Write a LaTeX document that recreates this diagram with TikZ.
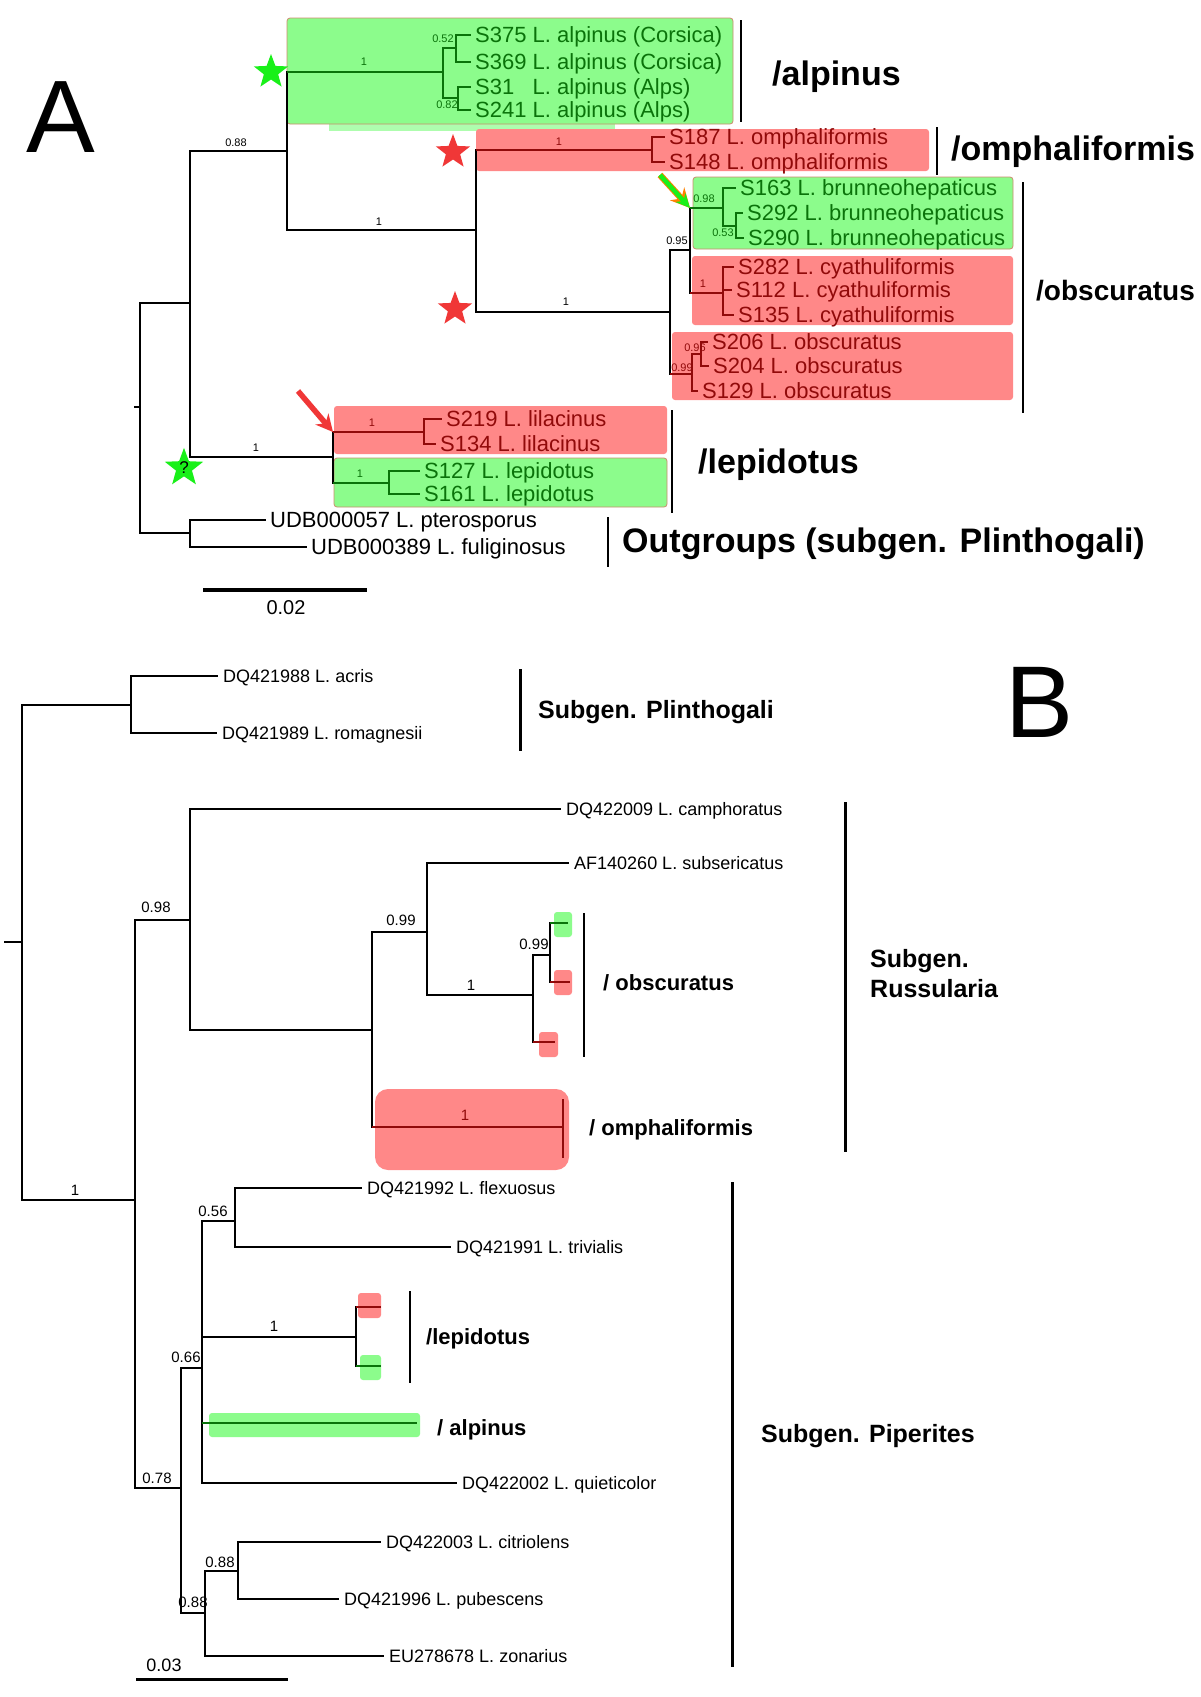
\documentclass[tikz,border=0pt]{standalone}
\usepackage{fontspec}
\setmainfont{Liberation Sans}
\usetikzlibrary{arrows.meta,shapes.geometric}
\tikzset {>=Stealth}

\definecolor{gfill}{RGB}{140,252,140}
\definecolor{rfill}{RGB}{255,136,136}
\definecolor{gdark}{RGB}{10,115,10}
\definecolor{rdark}{RGB}{145,10,10}
\definecolor{gedge}{RGB}{205,140,110}
\definecolor{gstar}{RGB}{25,240,25}
\definecolor{rstar}{RGB}{240,55,55}

\tikzset{
  brA/.style={line width=1.8pt},
  brB/.style={line width=2.8pt},
  bar/.style={line width=2pt},
  barB/.style={line width=3pt},
  leafA/.style={anchor=west,inner xsep=4pt,inner ysep=0pt,text height=15.75pt,text depth=0pt,font=\fontsize{22}{24}\selectfont},
  leafB/.style={anchor=west,inner xsep=5pt,inner ysep=0pt,text height=12.9pt,text depth=0pt,font=\fontsize{18}{20}\selectfont},
  supA/.style={inner sep=0pt,font=\fontsize{11}{12}\selectfont},
  supB/.style={inner sep=0pt,font=\fontsize{15}{16}\selectfont},
  cladeA/.style={anchor=west,inner sep=0pt,text height=24.3pt,text depth=0pt,font=\bfseries\fontsize{34}{36}\selectfont},
  cladeB/.style={anchor=west,inner sep=0pt,text height=15.75pt,text depth=0pt,font=\bfseries\fontsize{22}{24}\selectfont},
  subgen/.style={anchor=west,inner sep=0pt,text height=17.9pt,text depth=0pt,font=\bfseries\fontsize{25}{28}\selectfont},
  gbox/.style={fill=gfill,draw=gedge,line width=0.8pt,rounded corners=3pt},
  rbox/.style={fill=rfill,rounded corners=3pt},
  gboxB/.style={fill=gfill,rounded corners=3pt},
  starnode/.style={star,star points=5,star point ratio=2.4,minimum size=36pt,inner sep=0pt},
}

\begin{document}
\begin{tikzpicture}[x=1pt,y=-1pt]
\useasboundingbox (0,0) rectangle (1200,1697);
\fill[white] (0,0) rectangle (1200,1697);

% ---------------- A ----------------
\node[font=\fontsize{103}{110}\selectfont,inner sep=0pt] (LA) at (61,117) {A};

\fill[gfill!70!white] (329,124) rectangle (615,131);
\path[gbox] (287,18) rectangle (733,124);
\path[rbox] (476,129) rectangle (929,171);
\path[gbox] (693,177) rectangle (1013,249);
\path[rbox] (692,256) rectangle (1013,325);
\path[rbox] (672,332) rectangle (1013,400);
\path[rbox] (334,406) rectangle (667,454);
\path[gbox] (334,458) rectangle (667,507);

\path
  (134,407) coordinate (R0)
  (140,407) coordinate (R)
  (190,303) coordinate (I1)
  (287,151) coordinate (I2)
  (476,230) coordinate (I3)
  (652,150) coordinate (OM)
  (670,312) coordinate (OB)
  (690,250) coordinate (BC)
  (723,208) coordinate (BRN)
  (736,226) coordinate (BR2)
  (723,293) coordinate (CYA)
  (692,374) coordinate (OBS)
  (701,354) coordinate (OB2)
  (443,72) coordinate (AL)
  (456,48) coordinate (AC)
  (458,98) coordinate (AA)
  (333,457) coordinate (LP)
  (424,432) coordinate (LL)
  (389,483) coordinate (LE)
  (190,533) coordinate (OG)
  (298,391) coordinate (rT)
  (660,175) coordinate (gT);

\node[leafA,gdark] (a1) at (471,35) {S375 L. alpinus (Corsica)};
\node[leafA,gdark] (a2) at (471,62) {S369 L. alpinus (Corsica)};
\node[leafA,gdark] (a3) at (471,87) {S31\phantom{5} L. alpinus (Alps)};
\node[leafA,gdark] (a4) at (471,110) {S241 L. alpinus (Alps)};
\node[leafA,rdark] (o1) at (665,137) {S187 L. omphaliformis};
\node[leafA,rdark] (o2) at (665,162) {S148 L. omphaliformis};
\node[leafA,gdark] (b1) at (736,188) {S163 L. brunneohepaticus};
\node[leafA,gdark] (b2) at (743,213) {S292 L. brunneohepaticus};
\node[leafA,gdark] (b3) at (744,238) {S290 L. brunneohepaticus};
\node[leafA,rdark] (c1) at (734,267) {S282 L. cyathuliformis};
\node[leafA,rdark] (c2) at (732,290) {S112 L. cyathuliformis};
\node[leafA,rdark] (c3) at (734,315) {S135 L. cyathuliformis};
\node[leafA,rdark] (s1) at (708,342) {S206 L. obscuratus};
\node[leafA,rdark] (s2) at (709,366) {S204 L. obscuratus};
\node[leafA,rdark] (s3) at (698,391) {S129 L. obscuratus};
\node[leafA,rdark] (l1) at (442,419) {S219 L. lilacinus};
\node[leafA,rdark] (l2) at (436,444) {S134 L. lilacinus};
\node[leafA,gdark] (e1) at (420,471) {S127 L. lepidotus};
\node[leafA,gdark] (e2) at (420,494) {S161 L. lepidotus};
\node[leafA] (u1) at (266,520) {UDB000057 L. pterosporus};
\node[leafA] (u2) at (307,547) {UDB000389 L. fuliginosus};

\draw[brA] (R0) -- (R);
\foreach \p/\c in {R/I1,R/OG,I1/I2,I1/LP,I2/AL,I2/I3,I3/OM,I3/OB,OB/BC,OB/OBS,BC/BRN,BC/CYA,LP/LL,LP/LE}
  \draw[brA] (\p) |- (\c);
\foreach \p/\c/\col in {I2/AL/gdark,I3/OM/rdark,LP/LL/rdark,LP/LE/gdark,BC/BRN/gdark,BC/CYA/rdark,OB/OBS/rdark}
  \draw[brA,color=\col] (\p |- \c) -- (\c);
\foreach \p/\c/\col in {AL/AC/gdark,AL/AA/gdark,BRN/BR2/gdark,OBS/OB2/rdark}
  \draw[brA,color=\col] (\p) |- (\c);
\foreach \p/\c/\col in {AC/a1/gdark,AC/a2/gdark,AA/a3/gdark,AA/a4/gdark,OM/o1/rdark,OM/o2/rdark,
    BRN/b1/gdark,BR2/b2/gdark,BR2/b3/gdark,CYA/c1/rdark,CYA/c2/rdark,CYA/c3/rdark,
    OB2/s1/rdark,OB2/s2/rdark,OBS/s3/rdark,LL/l1/rdark,LL/l2/rdark,LE/e1/gdark,LE/e2/gdark,
    OG/u1/black,OG/u2/black}
  \draw[brA,color=\col] (\p) |- (\c.west);

\foreach \x/\y/\t/\col [count=\i] in {236/143/0.88/black,379/222/1/black,364/62/1/gdark,
    443/39/0.52/gdark,447/105/0.82/gdark,559/142/1/rdark,566/302/1/black,677/241/0.95/black,
    704/199/0.98/gdark,723/233/0.53/gdark,703/284/1/rdark,682/368/0.99/rdark,695/348/0.96/rdark,
    256/448/1/black,372/423/1/rdark,360/474/1/gdark}
  \node[supA,text=\col] (pa\i) at (\x,\y) {\t};

\draw[bar] (741,20) -- (741,122);
\draw[bar] (937,127) -- (937,175);
\draw[bar] (1023,182) -- (1023,413);
\draw[bar] (672,410) -- (672,513);
\draw[bar] (608,517) -- (608,567);
\node[cladeA] (gAl) at (772,73) {/alpinus};
\node[cladeA] (gOm) at (951,148) {/omphaliformis};
\node[cladeA,text height=20pt,font=\bfseries\fontsize{28}{30}\selectfont] (gOb) at (1036,290) {/obscuratus};
\node[cladeA] (gLe) at (698,461) {/lepidotus};
\node[cladeA] (gOg) at (622,540) {Outgroups (subgen. Plinthogali)};

\node[starnode,fill=gstar] (st1) at (271,72) {};
\node[starnode,fill=rstar] (st2) at (453,152) {};
\node[starnode,fill=rstar] (st3) at (455,309) {};
\node[starnode,fill=gstar,minimum size=33pt,font=\fontsize{17}{17}\selectfont] (st4) at (184,468) {?};

\draw[rstar,line width=5.5pt,-{Stealth[length=17pt,width=17pt]}] (rT) -- (LP |- LL);
\draw[orange,line width=6.5pt,-{Stealth[length=19pt,width=19pt]}] (gT) -- (BC |- BRN);
\draw[gstar,line width=4.5pt,-{Stealth[length=14pt,width=13pt]}] (gT) -- (BC |- BRN);

\draw[line width=4pt] (203,590) -- (367,590);
\node[inner sep=0pt,font=\fontsize{20}{22}\selectfont] (sA) at (286,608) {0.02};

% ---------------- B ----------------
\node[font=\fontsize{102}{110}\selectfont,inner sep=0pt] (LB) at (1040,702) {B};

\path[gboxB] (554,912) rectangle (572,937);
\path[rbox] (554,970) rectangle (572,995);
\path[rbox] (539,1032) rectangle (558,1057);
\path[rbox,rounded corners=13pt] (375,1089) rectangle (569,1170);
\path[rbox] (358,1293) rectangle (381,1318);
\path[gboxB] (360,1355) rectangle (381,1380);
\path[gboxB] (209,1413) rectangle (420,1437);

\path
  (4,942) coordinate (RB0)
  (22,942) coordinate (RB)
  (131,705) coordinate (PL)
  (135,1200) coordinate (N1)
  (190,920) coordinate (N2)
  (372,1030) coordinate (N3)
  (427,932) coordinate (N4)
  (533,995) coordinate (N5)
  (550,955) coordinate (N6)
  (563,1127) coordinate (OMB)
  (181,1488) coordinate (N7)
  (202,1368) coordinate (N8)
  (235,1221) coordinate (N9)
  (356,1337) coordinate (LPB)
  (417,1423) coordinate (ALB)
  (205,1613) coordinate (N10)
  (238,1571) coordinate (N11)
  (568,923) coordinate (ob1)
  (570,982) coordinate (ob2)
  (555,1042) coordinate (ob3)
  (381,1307) coordinate (lp1)
  (381,1366) coordinate (lp2);

\node[leafB] (d1) at (218,676) {DQ421988 L. acris};
\node[leafB] (d2) at (217,733) {DQ421989 L. romagnesii};
\node[leafB] (d3) at (561,809) {DQ422009 L. camphoratus};
\node[leafB] (d4) at (569,863) {AF140260 L. subsericatus};
\node[leafB] (d5) at (362,1188) {DQ421992 L. flexuosus};
\node[leafB] (d6) at (451,1247) {DQ421991 L. trivialis};
\node[leafB] (d7) at (457,1483) {DQ422002 L. quieticolor};
\node[leafB] (d8) at (381,1542) {DQ422003 L. citriolens};
\node[leafB] (d9) at (339,1599) {DQ421996 L. pubescens};
\node[leafB] (d10) at (384,1656) {EU278678 L. zonarius};

\draw[brB] (RB0) -- (RB);
\foreach \p/\c in {RB/PL,RB/N1,N1/N2,N1/N7,N2/N3,N3/N4,N3/OMB,N4/N5,N5/N6,N7/N8,N7/N10,N8/N9,N8/LPB,N8/ALB,N10/N11}
  \draw[brB] (\p) |- (\c);
\foreach \p/\c in {PL/d1,PL/d2,N2/d3,N4/d4,N9/d5,N9/d6,N8/d7,N11/d8,N11/d9,N10/d10}
  \draw[brB] (\p) |- (\c.west);
\foreach \p/\c in {N6/ob1,N6/ob2,N5/ob3,LPB/lp1,LPB/lp2}
  \draw[line width=2.2pt] (\p) |- (\c);
\foreach \p/\c/\col in {N3/OMB/rdark,N8/ALB/gdark,N6/ob1/gdark,N6/ob2/rdark,N5/ob3/rdark,LPB/lp1/rdark,LPB/lp2/gdark}
  \draw[brB,color=\col] (\p |- \c) -- (\c);
\draw[brB,rdark] ([yshift=28pt]OMB) -- ([yshift=-31pt]OMB);

\foreach \x/\y/\t/\col [count=\i] in {156/907/0.98/black,75/1190/1/black,401/920/0.99/black,
    471/985/1/black,534/944/0.99/black,465/1115/1/rdark,213/1211/0.56/black,274/1326/1/black,
    186/1357/0.66/black,157/1478/0.78/black,193/1602/0.88/black,220/1562/0.88/black}
  \node[supB,text=\col] (pb\i) at (\x,\y) {\t};

\draw[barB] (520,669) -- (520,751);
\draw[bar] (584,913) -- (584,1057);
\draw[barB] (845,802) -- (845,1152);
\draw[bar] (410,1291) -- (410,1383);
\draw[barB] (732,1182) -- (732,1667);
\node[subgen] (gP1) at (538,710) {Subgen. Plinthogali};
\node[cladeB] (gB1) at (603,983) {/ obscuratus};
\node[cladeB] (gB2) at (589,1128) {/ omphaliformis};
\node[subgen] (gP2) at (870,959) {Subgen.};
\node[subgen] (gP3) at (870,989) {Russularia};
\node[cladeB] (gB3) at (426,1337) {/lepidotus};
\node[cladeB] (gB4) at (437,1428) {/ alpinus};
\node[subgen] (gP4) at (761,1434) {Subgen. Piperites};

\draw[line width=3pt] (136,1679) -- (288,1679);
\node[inner sep=0pt,font=\fontsize{18}{20}\selectfont] (sB) at (164,1665) {0.03};
\end{tikzpicture}
\end{document}
